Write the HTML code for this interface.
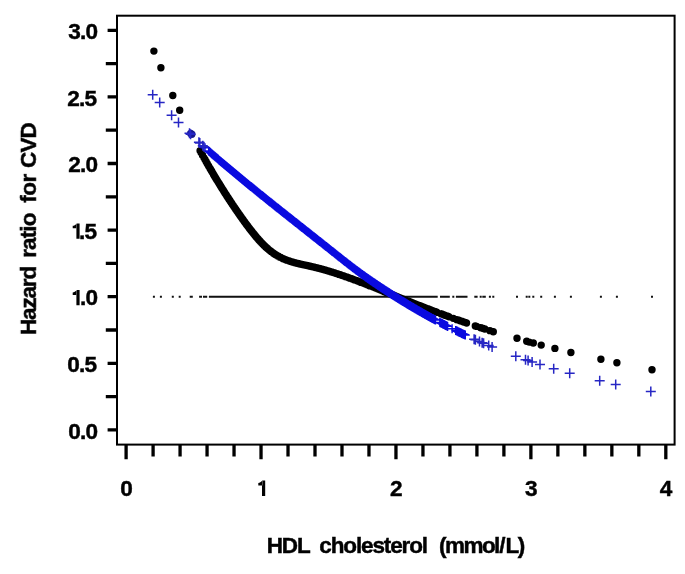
<!DOCTYPE html>
<html><head><meta charset="utf-8"><style>
html,body{margin:0;padding:0;background:#fff;width:685px;height:574px;overflow:hidden}
svg .p{stroke:#0a0ae0;stroke-width:1.4;fill:none}
svg .p.s{stroke:#2626c4;stroke-width:1.5}
svg text{font-family:"Liberation Sans",sans-serif;font-weight:bold;fill:#000}
svg .t{opacity:0.999}
svg .t text{stroke:#000;stroke-width:0.45}
svg .t tspan.h{fill:none;stroke:none}
</style></head><body>
<svg width="685" height="574" viewBox="0 0 685 574" style="position:absolute;left:0;top:0">
<rect x="0" y="0" width="685" height="574" fill="#fff"/>
<path d="M152.9 295.8h2v2h-2zM159.9 295.8h2v2h-2zM171.8 295.8h2v2h-2zM178.7 295.8h2v2h-2zM189.7 295.8h2v2h-2zM190.8 295.8h2v2h-2zM199.1 295.8h2v2h-2zM200.0 295.8h2v2h-2zM203.0 295.8h2v2h-2zM204.1 295.8h2v2h-2zM205.2 295.8h2v2h-2zM208.9 295.8h2v2h-2zM209.5 295.8h2v2h-2zM210.1 295.8h2v2h-2zM210.7 295.8h2v2h-2zM211.3 295.8h2v2h-2zM211.9 295.8h2v2h-2zM212.5 295.8h2v2h-2zM213.1 295.8h2v2h-2zM213.7 295.8h2v2h-2zM214.3 295.8h2v2h-2zM214.9 295.8h2v2h-2zM215.5 295.8h2v2h-2zM216.1 295.8h2v2h-2zM216.7 295.8h2v2h-2zM217.3 295.8h2v2h-2zM217.9 295.8h2v2h-2zM218.5 295.8h2v2h-2zM219.1 295.8h2v2h-2zM219.7 295.8h2v2h-2zM220.3 295.8h2v2h-2zM220.9 295.8h2v2h-2zM221.5 295.8h2v2h-2zM222.1 295.8h2v2h-2zM222.7 295.8h2v2h-2zM223.3 295.8h2v2h-2zM223.9 295.8h2v2h-2zM224.5 295.8h2v2h-2zM225.1 295.8h2v2h-2zM225.7 295.8h2v2h-2zM226.3 295.8h2v2h-2zM226.9 295.8h2v2h-2zM227.5 295.8h2v2h-2zM228.1 295.8h2v2h-2zM228.7 295.8h2v2h-2zM229.3 295.8h2v2h-2zM229.9 295.8h2v2h-2zM230.5 295.8h2v2h-2zM231.1 295.8h2v2h-2zM231.7 295.8h2v2h-2zM232.3 295.8h2v2h-2zM232.9 295.8h2v2h-2zM233.5 295.8h2v2h-2zM234.1 295.8h2v2h-2zM234.7 295.8h2v2h-2zM235.3 295.8h2v2h-2zM235.9 295.8h2v2h-2zM236.5 295.8h2v2h-2zM237.1 295.8h2v2h-2zM237.7 295.8h2v2h-2zM238.3 295.8h2v2h-2zM238.9 295.8h2v2h-2zM239.5 295.8h2v2h-2zM240.1 295.8h2v2h-2zM240.7 295.8h2v2h-2zM241.3 295.8h2v2h-2zM241.9 295.8h2v2h-2zM242.5 295.8h2v2h-2zM243.1 295.8h2v2h-2zM243.7 295.8h2v2h-2zM244.3 295.8h2v2h-2zM244.9 295.8h2v2h-2zM245.5 295.8h2v2h-2zM246.1 295.8h2v2h-2zM246.7 295.8h2v2h-2zM247.3 295.8h2v2h-2zM247.9 295.8h2v2h-2zM248.5 295.8h2v2h-2zM249.1 295.8h2v2h-2zM249.7 295.8h2v2h-2zM250.3 295.8h2v2h-2zM250.9 295.8h2v2h-2zM251.5 295.8h2v2h-2zM252.1 295.8h2v2h-2zM252.7 295.8h2v2h-2zM253.3 295.8h2v2h-2zM253.9 295.8h2v2h-2zM254.5 295.8h2v2h-2zM255.1 295.8h2v2h-2zM255.7 295.8h2v2h-2zM256.3 295.8h2v2h-2zM256.9 295.8h2v2h-2zM257.5 295.8h2v2h-2zM258.1 295.8h2v2h-2zM258.7 295.8h2v2h-2zM259.3 295.8h2v2h-2zM259.9 295.8h2v2h-2zM260.5 295.8h2v2h-2zM261.1 295.8h2v2h-2zM261.7 295.8h2v2h-2zM262.3 295.8h2v2h-2zM262.9 295.8h2v2h-2zM263.5 295.8h2v2h-2zM264.1 295.8h2v2h-2zM264.7 295.8h2v2h-2zM265.3 295.8h2v2h-2zM265.9 295.8h2v2h-2zM266.5 295.8h2v2h-2zM267.1 295.8h2v2h-2zM267.7 295.8h2v2h-2zM268.3 295.8h2v2h-2zM268.9 295.8h2v2h-2zM269.5 295.8h2v2h-2zM270.1 295.8h2v2h-2zM270.7 295.8h2v2h-2zM271.3 295.8h2v2h-2zM271.9 295.8h2v2h-2zM272.5 295.8h2v2h-2zM273.1 295.8h2v2h-2zM273.7 295.8h2v2h-2zM274.3 295.8h2v2h-2zM274.9 295.8h2v2h-2zM275.5 295.8h2v2h-2zM276.1 295.8h2v2h-2zM276.7 295.8h2v2h-2zM277.3 295.8h2v2h-2zM277.9 295.8h2v2h-2zM278.5 295.8h2v2h-2zM279.1 295.8h2v2h-2zM279.7 295.8h2v2h-2zM280.3 295.8h2v2h-2zM280.9 295.8h2v2h-2zM281.5 295.8h2v2h-2zM282.1 295.8h2v2h-2zM282.7 295.8h2v2h-2zM283.3 295.8h2v2h-2zM283.9 295.8h2v2h-2zM284.5 295.8h2v2h-2zM285.1 295.8h2v2h-2zM285.7 295.8h2v2h-2zM286.3 295.8h2v2h-2zM286.9 295.8h2v2h-2zM287.5 295.8h2v2h-2zM288.1 295.8h2v2h-2zM288.7 295.8h2v2h-2zM289.3 295.8h2v2h-2zM289.9 295.8h2v2h-2zM290.5 295.8h2v2h-2zM291.1 295.8h2v2h-2zM291.7 295.8h2v2h-2zM292.3 295.8h2v2h-2zM292.9 295.8h2v2h-2zM293.5 295.8h2v2h-2zM294.1 295.8h2v2h-2zM294.7 295.8h2v2h-2zM295.3 295.8h2v2h-2zM295.9 295.8h2v2h-2zM296.5 295.8h2v2h-2zM297.1 295.8h2v2h-2zM297.7 295.8h2v2h-2zM298.3 295.8h2v2h-2zM298.9 295.8h2v2h-2zM299.5 295.8h2v2h-2zM300.1 295.8h2v2h-2zM300.7 295.8h2v2h-2zM301.3 295.8h2v2h-2zM301.9 295.8h2v2h-2zM302.5 295.8h2v2h-2zM303.1 295.8h2v2h-2zM303.7 295.8h2v2h-2zM304.3 295.8h2v2h-2zM304.9 295.8h2v2h-2zM305.5 295.8h2v2h-2zM306.1 295.8h2v2h-2zM306.7 295.8h2v2h-2zM307.3 295.8h2v2h-2zM307.9 295.8h2v2h-2zM308.5 295.8h2v2h-2zM309.1 295.8h2v2h-2zM309.7 295.8h2v2h-2zM310.3 295.8h2v2h-2zM310.9 295.8h2v2h-2zM311.5 295.8h2v2h-2zM312.1 295.8h2v2h-2zM312.7 295.8h2v2h-2zM313.3 295.8h2v2h-2zM313.9 295.8h2v2h-2zM314.5 295.8h2v2h-2zM315.1 295.8h2v2h-2zM315.7 295.8h2v2h-2zM316.3 295.8h2v2h-2zM316.9 295.8h2v2h-2zM317.5 295.8h2v2h-2zM318.1 295.8h2v2h-2zM318.7 295.8h2v2h-2zM319.3 295.8h2v2h-2zM319.9 295.8h2v2h-2zM320.5 295.8h2v2h-2zM321.1 295.8h2v2h-2zM321.7 295.8h2v2h-2zM322.3 295.8h2v2h-2zM322.9 295.8h2v2h-2zM323.5 295.8h2v2h-2zM324.1 295.8h2v2h-2zM324.7 295.8h2v2h-2zM325.3 295.8h2v2h-2zM325.9 295.8h2v2h-2zM326.5 295.8h2v2h-2zM327.1 295.8h2v2h-2zM327.7 295.8h2v2h-2zM328.3 295.8h2v2h-2zM328.9 295.8h2v2h-2zM329.5 295.8h2v2h-2zM330.1 295.8h2v2h-2zM330.7 295.8h2v2h-2zM331.3 295.8h2v2h-2zM331.9 295.8h2v2h-2zM332.5 295.8h2v2h-2zM333.1 295.8h2v2h-2zM333.7 295.8h2v2h-2zM334.3 295.8h2v2h-2zM334.9 295.8h2v2h-2zM335.5 295.8h2v2h-2zM336.1 295.8h2v2h-2zM336.7 295.8h2v2h-2zM337.3 295.8h2v2h-2zM337.9 295.8h2v2h-2zM338.5 295.8h2v2h-2zM339.1 295.8h2v2h-2zM339.7 295.8h2v2h-2zM340.3 295.8h2v2h-2zM340.9 295.8h2v2h-2zM341.5 295.8h2v2h-2zM342.1 295.8h2v2h-2zM342.7 295.8h2v2h-2zM343.3 295.8h2v2h-2zM343.9 295.8h2v2h-2zM344.5 295.8h2v2h-2zM345.1 295.8h2v2h-2zM345.7 295.8h2v2h-2zM346.3 295.8h2v2h-2zM346.9 295.8h2v2h-2zM347.5 295.8h2v2h-2zM348.1 295.8h2v2h-2zM348.7 295.8h2v2h-2zM349.3 295.8h2v2h-2zM349.9 295.8h2v2h-2zM350.5 295.8h2v2h-2zM351.1 295.8h2v2h-2zM351.7 295.8h2v2h-2zM352.3 295.8h2v2h-2zM352.9 295.8h2v2h-2zM353.5 295.8h2v2h-2zM354.1 295.8h2v2h-2zM354.7 295.8h2v2h-2zM355.3 295.8h2v2h-2zM355.9 295.8h2v2h-2zM356.5 295.8h2v2h-2zM357.1 295.8h2v2h-2zM357.7 295.8h2v2h-2zM358.3 295.8h2v2h-2zM358.9 295.8h2v2h-2zM359.5 295.8h2v2h-2zM360.1 295.8h2v2h-2zM360.7 295.8h2v2h-2zM361.3 295.8h2v2h-2zM361.9 295.8h2v2h-2zM362.5 295.8h2v2h-2zM363.1 295.8h2v2h-2zM363.7 295.8h2v2h-2zM364.3 295.8h2v2h-2zM364.9 295.8h2v2h-2zM365.5 295.8h2v2h-2zM366.1 295.8h2v2h-2zM366.7 295.8h2v2h-2zM367.3 295.8h2v2h-2zM367.9 295.8h2v2h-2zM368.5 295.8h2v2h-2zM369.1 295.8h2v2h-2zM369.7 295.8h2v2h-2zM370.3 295.8h2v2h-2zM370.9 295.8h2v2h-2zM371.5 295.8h2v2h-2zM372.1 295.8h2v2h-2zM372.7 295.8h2v2h-2zM373.3 295.8h2v2h-2zM373.9 295.8h2v2h-2zM374.5 295.8h2v2h-2zM375.1 295.8h2v2h-2zM375.7 295.8h2v2h-2zM376.3 295.8h2v2h-2zM376.9 295.8h2v2h-2zM377.5 295.8h2v2h-2zM378.1 295.8h2v2h-2zM378.7 295.8h2v2h-2zM379.3 295.8h2v2h-2zM379.9 295.8h2v2h-2zM380.5 295.8h2v2h-2zM381.1 295.8h2v2h-2zM381.7 295.8h2v2h-2zM382.3 295.8h2v2h-2zM382.9 295.8h2v2h-2zM383.5 295.8h2v2h-2zM384.1 295.8h2v2h-2zM384.7 295.8h2v2h-2zM385.3 295.8h2v2h-2zM385.9 295.8h2v2h-2zM386.5 295.8h2v2h-2zM387.1 295.8h2v2h-2zM387.7 295.8h2v2h-2zM388.3 295.8h2v2h-2zM388.9 295.8h2v2h-2zM389.5 295.8h2v2h-2zM390.1 295.8h2v2h-2zM390.7 295.8h2v2h-2zM391.3 295.8h2v2h-2zM391.9 295.8h2v2h-2zM392.5 295.8h2v2h-2zM393.1 295.8h2v2h-2zM393.7 295.8h2v2h-2zM394.3 295.8h2v2h-2zM394.9 295.8h2v2h-2zM395.5 295.8h2v2h-2zM396.1 295.8h2v2h-2zM396.7 295.8h2v2h-2zM397.3 295.8h2v2h-2zM397.9 295.8h2v2h-2zM398.5 295.8h2v2h-2zM399.1 295.8h2v2h-2zM399.7 295.8h2v2h-2zM400.3 295.8h2v2h-2zM400.9 295.8h2v2h-2zM401.5 295.8h2v2h-2zM402.1 295.8h2v2h-2zM402.7 295.8h2v2h-2zM403.3 295.8h2v2h-2zM403.9 295.8h2v2h-2zM404.5 295.8h2v2h-2zM405.1 295.8h2v2h-2zM405.7 295.8h2v2h-2zM406.3 295.8h2v2h-2zM406.9 295.8h2v2h-2zM407.5 295.8h2v2h-2zM408.1 295.8h2v2h-2zM408.7 295.8h2v2h-2zM409.3 295.8h2v2h-2zM409.9 295.8h2v2h-2zM410.5 295.8h2v2h-2zM411.1 295.8h2v2h-2zM411.7 295.8h2v2h-2zM412.3 295.8h2v2h-2zM412.9 295.8h2v2h-2zM413.5 295.8h2v2h-2zM414.1 295.8h2v2h-2zM414.7 295.8h2v2h-2zM415.3 295.8h2v2h-2zM415.9 295.8h2v2h-2zM416.5 295.8h2v2h-2zM417.1 295.8h2v2h-2zM417.7 295.8h2v2h-2zM418.3 295.8h2v2h-2zM418.9 295.8h2v2h-2zM419.5 295.8h2v2h-2zM420.1 295.8h2v2h-2zM420.7 295.8h2v2h-2zM421.3 295.8h2v2h-2zM421.9 295.8h2v2h-2zM422.5 295.8h2v2h-2zM423.1 295.8h2v2h-2zM423.7 295.8h2v2h-2zM424.3 295.8h2v2h-2zM424.9 295.8h2v2h-2zM425.5 295.8h2v2h-2zM426.1 295.8h2v2h-2zM426.7 295.8h2v2h-2zM427.3 295.8h2v2h-2zM427.9 295.8h2v2h-2zM428.5 295.8h2v2h-2zM429.1 295.8h2v2h-2zM429.7 295.8h2v2h-2zM430.3 295.8h2v2h-2zM430.9 295.8h2v2h-2zM431.5 295.8h2v2h-2zM432.1 295.8h2v2h-2zM432.7 295.8h2v2h-2zM433.3 295.8h2v2h-2zM433.9 295.8h2v2h-2zM434.5 295.8h2v2h-2zM435.1 295.8h2v2h-2zM435.7 295.8h2v2h-2zM440.0 295.8h2v2h-2zM440.6 295.8h2v2h-2zM441.2 295.8h2v2h-2zM441.8 295.8h2v2h-2zM442.4 295.8h2v2h-2zM443.0 295.8h2v2h-2zM443.6 295.8h2v2h-2zM444.2 295.8h2v2h-2zM444.8 295.8h2v2h-2zM445.4 295.8h2v2h-2zM446.0 295.8h2v2h-2zM446.6 295.8h2v2h-2zM447.2 295.8h2v2h-2zM447.8 295.8h2v2h-2zM452.3 295.8h2v2h-2zM455.9 295.8h2v2h-2zM456.5 295.8h2v2h-2zM457.1 295.8h2v2h-2zM457.7 295.8h2v2h-2zM458.3 295.8h2v2h-2zM458.9 295.8h2v2h-2zM459.5 295.8h2v2h-2zM460.1 295.8h2v2h-2zM460.7 295.8h2v2h-2zM461.3 295.8h2v2h-2zM461.9 295.8h2v2h-2zM462.5 295.8h2v2h-2zM463.1 295.8h2v2h-2zM463.7 295.8h2v2h-2zM464.3 295.8h2v2h-2zM464.9 295.8h2v2h-2zM465.5 295.8h2v2h-2zM474.3 295.8h2v2h-2zM475.6 295.8h2v2h-2zM479.7 295.8h2v2h-2zM482.3 295.8h2v2h-2zM483.8 295.8h2v2h-2zM488.9 295.8h2v2h-2zM492.3 295.8h2v2h-2zM516.0 295.8h2v2h-2zM525.7 295.8h2v2h-2zM528.3 295.8h2v2h-2zM532.3 295.8h2v2h-2zM540.2 295.8h2v2h-2zM553.9 295.8h2v2h-2zM569.9 295.8h2v2h-2zM599.9 295.8h2v2h-2zM615.9 295.8h2v2h-2zM651.0 295.8h2v2h-2z" fill="#111"/>
<path d="M150.20 51.10a3.7 3.7 0 1 0 7.4 0a3.7 3.7 0 1 0 -7.4 0zM157.20 67.70a3.7 3.7 0 1 0 7.4 0a3.7 3.7 0 1 0 -7.4 0zM169.10 95.50a3.7 3.7 0 1 0 7.4 0a3.7 3.7 0 1 0 -7.4 0zM176.00 110.30a3.7 3.7 0 1 0 7.4 0a3.7 3.7 0 1 0 -7.4 0zM196.40 150.79a3.7 3.7 0 1 0 7.4 0a3.7 3.7 0 1 0 -7.4 0zM197.30 152.44a3.7 3.7 0 1 0 7.4 0a3.7 3.7 0 1 0 -7.4 0zM198.80 155.16a3.7 3.7 0 1 0 7.4 0a3.7 3.7 0 1 0 -7.4 0zM200.30 157.86a3.7 3.7 0 1 0 7.4 0a3.7 3.7 0 1 0 -7.4 0zM201.40 159.82a3.7 3.7 0 1 0 7.4 0a3.7 3.7 0 1 0 -7.4 0zM202.50 161.77a3.7 3.7 0 1 0 7.4 0a3.7 3.7 0 1 0 -7.4 0zM203.60 163.71a3.7 3.7 0 1 0 7.4 0a3.7 3.7 0 1 0 -7.4 0zM204.90 165.98a3.7 3.7 0 1 0 7.4 0a3.7 3.7 0 1 0 -7.4 0zM206.20 168.23a3.7 3.7 0 1 0 7.4 0a3.7 3.7 0 1 0 -7.4 0zM206.80 169.26a3.7 3.7 0 1 0 7.4 0a3.7 3.7 0 1 0 -7.4 0zM207.40 170.29a3.7 3.7 0 1 0 7.4 0a3.7 3.7 0 1 0 -7.4 0zM208.00 171.32a3.7 3.7 0 1 0 7.4 0a3.7 3.7 0 1 0 -7.4 0zM208.60 172.34a3.7 3.7 0 1 0 7.4 0a3.7 3.7 0 1 0 -7.4 0zM209.20 173.36a3.7 3.7 0 1 0 7.4 0a3.7 3.7 0 1 0 -7.4 0zM209.80 174.37a3.7 3.7 0 1 0 7.4 0a3.7 3.7 0 1 0 -7.4 0zM210.40 175.38a3.7 3.7 0 1 0 7.4 0a3.7 3.7 0 1 0 -7.4 0zM211.00 176.39a3.7 3.7 0 1 0 7.4 0a3.7 3.7 0 1 0 -7.4 0zM211.60 177.39a3.7 3.7 0 1 0 7.4 0a3.7 3.7 0 1 0 -7.4 0zM212.20 178.39a3.7 3.7 0 1 0 7.4 0a3.7 3.7 0 1 0 -7.4 0zM212.80 179.38a3.7 3.7 0 1 0 7.4 0a3.7 3.7 0 1 0 -7.4 0zM213.40 180.37a3.7 3.7 0 1 0 7.4 0a3.7 3.7 0 1 0 -7.4 0zM214.00 181.36a3.7 3.7 0 1 0 7.4 0a3.7 3.7 0 1 0 -7.4 0zM214.60 182.34a3.7 3.7 0 1 0 7.4 0a3.7 3.7 0 1 0 -7.4 0zM215.20 183.32a3.7 3.7 0 1 0 7.4 0a3.7 3.7 0 1 0 -7.4 0zM215.80 184.30a3.7 3.7 0 1 0 7.4 0a3.7 3.7 0 1 0 -7.4 0zM216.40 185.27a3.7 3.7 0 1 0 7.4 0a3.7 3.7 0 1 0 -7.4 0zM217.00 186.24a3.7 3.7 0 1 0 7.4 0a3.7 3.7 0 1 0 -7.4 0zM217.60 187.20a3.7 3.7 0 1 0 7.4 0a3.7 3.7 0 1 0 -7.4 0zM218.20 188.16a3.7 3.7 0 1 0 7.4 0a3.7 3.7 0 1 0 -7.4 0zM218.80 189.12a3.7 3.7 0 1 0 7.4 0a3.7 3.7 0 1 0 -7.4 0zM219.40 190.07a3.7 3.7 0 1 0 7.4 0a3.7 3.7 0 1 0 -7.4 0zM220.00 191.02a3.7 3.7 0 1 0 7.4 0a3.7 3.7 0 1 0 -7.4 0zM220.60 191.97a3.7 3.7 0 1 0 7.4 0a3.7 3.7 0 1 0 -7.4 0zM221.20 192.91a3.7 3.7 0 1 0 7.4 0a3.7 3.7 0 1 0 -7.4 0zM221.80 193.85a3.7 3.7 0 1 0 7.4 0a3.7 3.7 0 1 0 -7.4 0zM222.40 194.79a3.7 3.7 0 1 0 7.4 0a3.7 3.7 0 1 0 -7.4 0zM223.00 195.72a3.7 3.7 0 1 0 7.4 0a3.7 3.7 0 1 0 -7.4 0zM223.60 196.64a3.7 3.7 0 1 0 7.4 0a3.7 3.7 0 1 0 -7.4 0zM224.20 197.57a3.7 3.7 0 1 0 7.4 0a3.7 3.7 0 1 0 -7.4 0zM224.80 198.49a3.7 3.7 0 1 0 7.4 0a3.7 3.7 0 1 0 -7.4 0zM225.40 199.41a3.7 3.7 0 1 0 7.4 0a3.7 3.7 0 1 0 -7.4 0zM226.00 200.32a3.7 3.7 0 1 0 7.4 0a3.7 3.7 0 1 0 -7.4 0zM226.60 201.23a3.7 3.7 0 1 0 7.4 0a3.7 3.7 0 1 0 -7.4 0zM227.20 202.14a3.7 3.7 0 1 0 7.4 0a3.7 3.7 0 1 0 -7.4 0zM227.80 203.04a3.7 3.7 0 1 0 7.4 0a3.7 3.7 0 1 0 -7.4 0zM228.40 203.94a3.7 3.7 0 1 0 7.4 0a3.7 3.7 0 1 0 -7.4 0zM229.00 204.83a3.7 3.7 0 1 0 7.4 0a3.7 3.7 0 1 0 -7.4 0zM229.60 205.72a3.7 3.7 0 1 0 7.4 0a3.7 3.7 0 1 0 -7.4 0zM230.20 206.61a3.7 3.7 0 1 0 7.4 0a3.7 3.7 0 1 0 -7.4 0zM230.80 207.50a3.7 3.7 0 1 0 7.4 0a3.7 3.7 0 1 0 -7.4 0zM231.40 208.38a3.7 3.7 0 1 0 7.4 0a3.7 3.7 0 1 0 -7.4 0zM232.00 209.26a3.7 3.7 0 1 0 7.4 0a3.7 3.7 0 1 0 -7.4 0zM232.60 210.13a3.7 3.7 0 1 0 7.4 0a3.7 3.7 0 1 0 -7.4 0zM233.20 211.00a3.7 3.7 0 1 0 7.4 0a3.7 3.7 0 1 0 -7.4 0zM233.80 211.87a3.7 3.7 0 1 0 7.4 0a3.7 3.7 0 1 0 -7.4 0zM234.40 212.73a3.7 3.7 0 1 0 7.4 0a3.7 3.7 0 1 0 -7.4 0zM235.00 213.60a3.7 3.7 0 1 0 7.4 0a3.7 3.7 0 1 0 -7.4 0zM235.60 214.45a3.7 3.7 0 1 0 7.4 0a3.7 3.7 0 1 0 -7.4 0zM236.20 215.31a3.7 3.7 0 1 0 7.4 0a3.7 3.7 0 1 0 -7.4 0zM236.80 216.16a3.7 3.7 0 1 0 7.4 0a3.7 3.7 0 1 0 -7.4 0zM237.40 217.00a3.7 3.7 0 1 0 7.4 0a3.7 3.7 0 1 0 -7.4 0zM238.00 217.85a3.7 3.7 0 1 0 7.4 0a3.7 3.7 0 1 0 -7.4 0zM238.60 218.69a3.7 3.7 0 1 0 7.4 0a3.7 3.7 0 1 0 -7.4 0zM239.20 219.52a3.7 3.7 0 1 0 7.4 0a3.7 3.7 0 1 0 -7.4 0zM239.80 220.36a3.7 3.7 0 1 0 7.4 0a3.7 3.7 0 1 0 -7.4 0zM240.40 221.19a3.7 3.7 0 1 0 7.4 0a3.7 3.7 0 1 0 -7.4 0zM241.00 222.01a3.7 3.7 0 1 0 7.4 0a3.7 3.7 0 1 0 -7.4 0zM241.60 222.83a3.7 3.7 0 1 0 7.4 0a3.7 3.7 0 1 0 -7.4 0zM242.20 223.65a3.7 3.7 0 1 0 7.4 0a3.7 3.7 0 1 0 -7.4 0zM242.80 224.46a3.7 3.7 0 1 0 7.4 0a3.7 3.7 0 1 0 -7.4 0zM243.40 225.27a3.7 3.7 0 1 0 7.4 0a3.7 3.7 0 1 0 -7.4 0zM244.00 226.07a3.7 3.7 0 1 0 7.4 0a3.7 3.7 0 1 0 -7.4 0zM244.60 226.87a3.7 3.7 0 1 0 7.4 0a3.7 3.7 0 1 0 -7.4 0zM245.20 227.66a3.7 3.7 0 1 0 7.4 0a3.7 3.7 0 1 0 -7.4 0zM245.80 228.45a3.7 3.7 0 1 0 7.4 0a3.7 3.7 0 1 0 -7.4 0zM246.40 229.23a3.7 3.7 0 1 0 7.4 0a3.7 3.7 0 1 0 -7.4 0zM247.00 230.00a3.7 3.7 0 1 0 7.4 0a3.7 3.7 0 1 0 -7.4 0zM247.60 230.77a3.7 3.7 0 1 0 7.4 0a3.7 3.7 0 1 0 -7.4 0zM248.20 231.53a3.7 3.7 0 1 0 7.4 0a3.7 3.7 0 1 0 -7.4 0zM248.80 232.29a3.7 3.7 0 1 0 7.4 0a3.7 3.7 0 1 0 -7.4 0zM249.40 233.04a3.7 3.7 0 1 0 7.4 0a3.7 3.7 0 1 0 -7.4 0zM250.00 233.78a3.7 3.7 0 1 0 7.4 0a3.7 3.7 0 1 0 -7.4 0zM250.60 234.52a3.7 3.7 0 1 0 7.4 0a3.7 3.7 0 1 0 -7.4 0zM251.20 235.25a3.7 3.7 0 1 0 7.4 0a3.7 3.7 0 1 0 -7.4 0zM251.80 235.97a3.7 3.7 0 1 0 7.4 0a3.7 3.7 0 1 0 -7.4 0zM252.40 236.68a3.7 3.7 0 1 0 7.4 0a3.7 3.7 0 1 0 -7.4 0zM253.00 237.39a3.7 3.7 0 1 0 7.4 0a3.7 3.7 0 1 0 -7.4 0zM253.60 238.09a3.7 3.7 0 1 0 7.4 0a3.7 3.7 0 1 0 -7.4 0zM254.20 238.78a3.7 3.7 0 1 0 7.4 0a3.7 3.7 0 1 0 -7.4 0zM254.80 239.46a3.7 3.7 0 1 0 7.4 0a3.7 3.7 0 1 0 -7.4 0zM255.40 240.13a3.7 3.7 0 1 0 7.4 0a3.7 3.7 0 1 0 -7.4 0zM256.00 240.80a3.7 3.7 0 1 0 7.4 0a3.7 3.7 0 1 0 -7.4 0zM256.60 241.45a3.7 3.7 0 1 0 7.4 0a3.7 3.7 0 1 0 -7.4 0zM257.20 242.10a3.7 3.7 0 1 0 7.4 0a3.7 3.7 0 1 0 -7.4 0zM257.80 242.74a3.7 3.7 0 1 0 7.4 0a3.7 3.7 0 1 0 -7.4 0zM258.40 243.36a3.7 3.7 0 1 0 7.4 0a3.7 3.7 0 1 0 -7.4 0zM259.00 243.98a3.7 3.7 0 1 0 7.4 0a3.7 3.7 0 1 0 -7.4 0zM259.60 244.59a3.7 3.7 0 1 0 7.4 0a3.7 3.7 0 1 0 -7.4 0zM260.20 245.19a3.7 3.7 0 1 0 7.4 0a3.7 3.7 0 1 0 -7.4 0zM260.80 245.78a3.7 3.7 0 1 0 7.4 0a3.7 3.7 0 1 0 -7.4 0zM261.40 246.36a3.7 3.7 0 1 0 7.4 0a3.7 3.7 0 1 0 -7.4 0zM262.00 246.93a3.7 3.7 0 1 0 7.4 0a3.7 3.7 0 1 0 -7.4 0zM262.60 247.48a3.7 3.7 0 1 0 7.4 0a3.7 3.7 0 1 0 -7.4 0zM263.20 248.03a3.7 3.7 0 1 0 7.4 0a3.7 3.7 0 1 0 -7.4 0zM263.80 248.56a3.7 3.7 0 1 0 7.4 0a3.7 3.7 0 1 0 -7.4 0zM264.40 249.09a3.7 3.7 0 1 0 7.4 0a3.7 3.7 0 1 0 -7.4 0zM265.00 249.60a3.7 3.7 0 1 0 7.4 0a3.7 3.7 0 1 0 -7.4 0zM265.60 250.10a3.7 3.7 0 1 0 7.4 0a3.7 3.7 0 1 0 -7.4 0zM266.20 250.59a3.7 3.7 0 1 0 7.4 0a3.7 3.7 0 1 0 -7.4 0zM266.80 251.07a3.7 3.7 0 1 0 7.4 0a3.7 3.7 0 1 0 -7.4 0zM267.40 251.53a3.7 3.7 0 1 0 7.4 0a3.7 3.7 0 1 0 -7.4 0zM268.00 251.99a3.7 3.7 0 1 0 7.4 0a3.7 3.7 0 1 0 -7.4 0zM268.60 252.43a3.7 3.7 0 1 0 7.4 0a3.7 3.7 0 1 0 -7.4 0zM269.20 252.86a3.7 3.7 0 1 0 7.4 0a3.7 3.7 0 1 0 -7.4 0zM269.80 253.28a3.7 3.7 0 1 0 7.4 0a3.7 3.7 0 1 0 -7.4 0zM270.40 253.69a3.7 3.7 0 1 0 7.4 0a3.7 3.7 0 1 0 -7.4 0zM271.00 254.09a3.7 3.7 0 1 0 7.4 0a3.7 3.7 0 1 0 -7.4 0zM271.60 254.48a3.7 3.7 0 1 0 7.4 0a3.7 3.7 0 1 0 -7.4 0zM272.20 254.86a3.7 3.7 0 1 0 7.4 0a3.7 3.7 0 1 0 -7.4 0zM272.80 255.22a3.7 3.7 0 1 0 7.4 0a3.7 3.7 0 1 0 -7.4 0zM273.40 255.58a3.7 3.7 0 1 0 7.4 0a3.7 3.7 0 1 0 -7.4 0zM274.00 255.93a3.7 3.7 0 1 0 7.4 0a3.7 3.7 0 1 0 -7.4 0zM274.60 256.27a3.7 3.7 0 1 0 7.4 0a3.7 3.7 0 1 0 -7.4 0zM275.20 256.60a3.7 3.7 0 1 0 7.4 0a3.7 3.7 0 1 0 -7.4 0zM275.80 256.92a3.7 3.7 0 1 0 7.4 0a3.7 3.7 0 1 0 -7.4 0zM276.40 257.23a3.7 3.7 0 1 0 7.4 0a3.7 3.7 0 1 0 -7.4 0zM277.00 257.54a3.7 3.7 0 1 0 7.4 0a3.7 3.7 0 1 0 -7.4 0zM277.60 257.83a3.7 3.7 0 1 0 7.4 0a3.7 3.7 0 1 0 -7.4 0zM278.20 258.12a3.7 3.7 0 1 0 7.4 0a3.7 3.7 0 1 0 -7.4 0zM278.80 258.40a3.7 3.7 0 1 0 7.4 0a3.7 3.7 0 1 0 -7.4 0zM279.40 258.67a3.7 3.7 0 1 0 7.4 0a3.7 3.7 0 1 0 -7.4 0zM280.00 258.93a3.7 3.7 0 1 0 7.4 0a3.7 3.7 0 1 0 -7.4 0zM280.60 259.19a3.7 3.7 0 1 0 7.4 0a3.7 3.7 0 1 0 -7.4 0zM281.20 259.44a3.7 3.7 0 1 0 7.4 0a3.7 3.7 0 1 0 -7.4 0zM281.80 259.68a3.7 3.7 0 1 0 7.4 0a3.7 3.7 0 1 0 -7.4 0zM282.40 259.92a3.7 3.7 0 1 0 7.4 0a3.7 3.7 0 1 0 -7.4 0zM283.00 260.15a3.7 3.7 0 1 0 7.4 0a3.7 3.7 0 1 0 -7.4 0zM283.60 260.37a3.7 3.7 0 1 0 7.4 0a3.7 3.7 0 1 0 -7.4 0zM284.20 260.59a3.7 3.7 0 1 0 7.4 0a3.7 3.7 0 1 0 -7.4 0zM284.80 260.80a3.7 3.7 0 1 0 7.4 0a3.7 3.7 0 1 0 -7.4 0zM285.40 261.01a3.7 3.7 0 1 0 7.4 0a3.7 3.7 0 1 0 -7.4 0zM286.00 261.21a3.7 3.7 0 1 0 7.4 0a3.7 3.7 0 1 0 -7.4 0zM286.60 261.40a3.7 3.7 0 1 0 7.4 0a3.7 3.7 0 1 0 -7.4 0zM287.20 261.59a3.7 3.7 0 1 0 7.4 0a3.7 3.7 0 1 0 -7.4 0zM287.80 261.77a3.7 3.7 0 1 0 7.4 0a3.7 3.7 0 1 0 -7.4 0zM288.40 261.95a3.7 3.7 0 1 0 7.4 0a3.7 3.7 0 1 0 -7.4 0zM289.00 262.13a3.7 3.7 0 1 0 7.4 0a3.7 3.7 0 1 0 -7.4 0zM289.60 262.30a3.7 3.7 0 1 0 7.4 0a3.7 3.7 0 1 0 -7.4 0zM290.20 262.47a3.7 3.7 0 1 0 7.4 0a3.7 3.7 0 1 0 -7.4 0zM290.80 262.63a3.7 3.7 0 1 0 7.4 0a3.7 3.7 0 1 0 -7.4 0zM291.40 262.79a3.7 3.7 0 1 0 7.4 0a3.7 3.7 0 1 0 -7.4 0zM292.00 262.95a3.7 3.7 0 1 0 7.4 0a3.7 3.7 0 1 0 -7.4 0zM292.60 263.10a3.7 3.7 0 1 0 7.4 0a3.7 3.7 0 1 0 -7.4 0zM293.20 263.25a3.7 3.7 0 1 0 7.4 0a3.7 3.7 0 1 0 -7.4 0zM293.80 263.40a3.7 3.7 0 1 0 7.4 0a3.7 3.7 0 1 0 -7.4 0zM294.40 263.54a3.7 3.7 0 1 0 7.4 0a3.7 3.7 0 1 0 -7.4 0zM295.00 263.68a3.7 3.7 0 1 0 7.4 0a3.7 3.7 0 1 0 -7.4 0zM295.60 263.82a3.7 3.7 0 1 0 7.4 0a3.7 3.7 0 1 0 -7.4 0zM296.20 263.96a3.7 3.7 0 1 0 7.4 0a3.7 3.7 0 1 0 -7.4 0zM296.80 264.10a3.7 3.7 0 1 0 7.4 0a3.7 3.7 0 1 0 -7.4 0zM297.40 264.23a3.7 3.7 0 1 0 7.4 0a3.7 3.7 0 1 0 -7.4 0zM298.00 264.37a3.7 3.7 0 1 0 7.4 0a3.7 3.7 0 1 0 -7.4 0zM298.60 264.50a3.7 3.7 0 1 0 7.4 0a3.7 3.7 0 1 0 -7.4 0zM299.20 264.63a3.7 3.7 0 1 0 7.4 0a3.7 3.7 0 1 0 -7.4 0zM299.80 264.76a3.7 3.7 0 1 0 7.4 0a3.7 3.7 0 1 0 -7.4 0zM300.40 264.89a3.7 3.7 0 1 0 7.4 0a3.7 3.7 0 1 0 -7.4 0zM301.00 265.02a3.7 3.7 0 1 0 7.4 0a3.7 3.7 0 1 0 -7.4 0zM301.60 265.15a3.7 3.7 0 1 0 7.4 0a3.7 3.7 0 1 0 -7.4 0zM302.20 265.27a3.7 3.7 0 1 0 7.4 0a3.7 3.7 0 1 0 -7.4 0zM302.80 265.40a3.7 3.7 0 1 0 7.4 0a3.7 3.7 0 1 0 -7.4 0zM303.40 265.53a3.7 3.7 0 1 0 7.4 0a3.7 3.7 0 1 0 -7.4 0zM304.00 265.66a3.7 3.7 0 1 0 7.4 0a3.7 3.7 0 1 0 -7.4 0zM304.60 265.79a3.7 3.7 0 1 0 7.4 0a3.7 3.7 0 1 0 -7.4 0zM305.20 265.93a3.7 3.7 0 1 0 7.4 0a3.7 3.7 0 1 0 -7.4 0zM305.80 266.06a3.7 3.7 0 1 0 7.4 0a3.7 3.7 0 1 0 -7.4 0zM306.40 266.20a3.7 3.7 0 1 0 7.4 0a3.7 3.7 0 1 0 -7.4 0zM307.00 266.33a3.7 3.7 0 1 0 7.4 0a3.7 3.7 0 1 0 -7.4 0zM307.60 266.47a3.7 3.7 0 1 0 7.4 0a3.7 3.7 0 1 0 -7.4 0zM308.20 266.61a3.7 3.7 0 1 0 7.4 0a3.7 3.7 0 1 0 -7.4 0zM308.80 266.75a3.7 3.7 0 1 0 7.4 0a3.7 3.7 0 1 0 -7.4 0zM309.40 266.89a3.7 3.7 0 1 0 7.4 0a3.7 3.7 0 1 0 -7.4 0zM310.00 267.04a3.7 3.7 0 1 0 7.4 0a3.7 3.7 0 1 0 -7.4 0zM310.60 267.19a3.7 3.7 0 1 0 7.4 0a3.7 3.7 0 1 0 -7.4 0zM311.20 267.33a3.7 3.7 0 1 0 7.4 0a3.7 3.7 0 1 0 -7.4 0zM311.80 267.48a3.7 3.7 0 1 0 7.4 0a3.7 3.7 0 1 0 -7.4 0zM312.40 267.63a3.7 3.7 0 1 0 7.4 0a3.7 3.7 0 1 0 -7.4 0zM313.00 267.79a3.7 3.7 0 1 0 7.4 0a3.7 3.7 0 1 0 -7.4 0zM313.60 267.94a3.7 3.7 0 1 0 7.4 0a3.7 3.7 0 1 0 -7.4 0zM314.20 268.09a3.7 3.7 0 1 0 7.4 0a3.7 3.7 0 1 0 -7.4 0zM314.80 268.25a3.7 3.7 0 1 0 7.4 0a3.7 3.7 0 1 0 -7.4 0zM315.40 268.41a3.7 3.7 0 1 0 7.4 0a3.7 3.7 0 1 0 -7.4 0zM316.00 268.57a3.7 3.7 0 1 0 7.4 0a3.7 3.7 0 1 0 -7.4 0zM316.60 268.73a3.7 3.7 0 1 0 7.4 0a3.7 3.7 0 1 0 -7.4 0zM317.20 268.89a3.7 3.7 0 1 0 7.4 0a3.7 3.7 0 1 0 -7.4 0zM317.80 269.06a3.7 3.7 0 1 0 7.4 0a3.7 3.7 0 1 0 -7.4 0zM318.40 269.22a3.7 3.7 0 1 0 7.4 0a3.7 3.7 0 1 0 -7.4 0zM319.00 269.39a3.7 3.7 0 1 0 7.4 0a3.7 3.7 0 1 0 -7.4 0zM319.60 269.56a3.7 3.7 0 1 0 7.4 0a3.7 3.7 0 1 0 -7.4 0zM320.20 269.73a3.7 3.7 0 1 0 7.4 0a3.7 3.7 0 1 0 -7.4 0zM320.80 269.90a3.7 3.7 0 1 0 7.4 0a3.7 3.7 0 1 0 -7.4 0zM321.40 270.07a3.7 3.7 0 1 0 7.4 0a3.7 3.7 0 1 0 -7.4 0zM322.00 270.24a3.7 3.7 0 1 0 7.4 0a3.7 3.7 0 1 0 -7.4 0zM322.60 270.42a3.7 3.7 0 1 0 7.4 0a3.7 3.7 0 1 0 -7.4 0zM323.20 270.59a3.7 3.7 0 1 0 7.4 0a3.7 3.7 0 1 0 -7.4 0zM323.80 270.77a3.7 3.7 0 1 0 7.4 0a3.7 3.7 0 1 0 -7.4 0zM324.40 270.95a3.7 3.7 0 1 0 7.4 0a3.7 3.7 0 1 0 -7.4 0zM325.00 271.13a3.7 3.7 0 1 0 7.4 0a3.7 3.7 0 1 0 -7.4 0zM325.60 271.31a3.7 3.7 0 1 0 7.4 0a3.7 3.7 0 1 0 -7.4 0zM326.20 271.49a3.7 3.7 0 1 0 7.4 0a3.7 3.7 0 1 0 -7.4 0zM326.80 271.68a3.7 3.7 0 1 0 7.4 0a3.7 3.7 0 1 0 -7.4 0zM327.40 271.86a3.7 3.7 0 1 0 7.4 0a3.7 3.7 0 1 0 -7.4 0zM328.00 272.05a3.7 3.7 0 1 0 7.4 0a3.7 3.7 0 1 0 -7.4 0zM328.60 272.24a3.7 3.7 0 1 0 7.4 0a3.7 3.7 0 1 0 -7.4 0zM329.20 272.42a3.7 3.7 0 1 0 7.4 0a3.7 3.7 0 1 0 -7.4 0zM329.80 272.61a3.7 3.7 0 1 0 7.4 0a3.7 3.7 0 1 0 -7.4 0zM330.40 272.80a3.7 3.7 0 1 0 7.4 0a3.7 3.7 0 1 0 -7.4 0zM331.00 273.00a3.7 3.7 0 1 0 7.4 0a3.7 3.7 0 1 0 -7.4 0zM331.60 273.19a3.7 3.7 0 1 0 7.4 0a3.7 3.7 0 1 0 -7.4 0zM332.20 273.38a3.7 3.7 0 1 0 7.4 0a3.7 3.7 0 1 0 -7.4 0zM332.80 273.58a3.7 3.7 0 1 0 7.4 0a3.7 3.7 0 1 0 -7.4 0zM333.40 273.77a3.7 3.7 0 1 0 7.4 0a3.7 3.7 0 1 0 -7.4 0zM334.00 273.97a3.7 3.7 0 1 0 7.4 0a3.7 3.7 0 1 0 -7.4 0zM334.60 274.17a3.7 3.7 0 1 0 7.4 0a3.7 3.7 0 1 0 -7.4 0zM335.20 274.37a3.7 3.7 0 1 0 7.4 0a3.7 3.7 0 1 0 -7.4 0zM335.80 274.57a3.7 3.7 0 1 0 7.4 0a3.7 3.7 0 1 0 -7.4 0zM336.40 274.77a3.7 3.7 0 1 0 7.4 0a3.7 3.7 0 1 0 -7.4 0zM337.00 274.97a3.7 3.7 0 1 0 7.4 0a3.7 3.7 0 1 0 -7.4 0zM337.60 275.18a3.7 3.7 0 1 0 7.4 0a3.7 3.7 0 1 0 -7.4 0zM338.20 275.38a3.7 3.7 0 1 0 7.4 0a3.7 3.7 0 1 0 -7.4 0zM338.80 275.59a3.7 3.7 0 1 0 7.4 0a3.7 3.7 0 1 0 -7.4 0zM339.40 275.79a3.7 3.7 0 1 0 7.4 0a3.7 3.7 0 1 0 -7.4 0zM340.00 276.00a3.7 3.7 0 1 0 7.4 0a3.7 3.7 0 1 0 -7.4 0zM340.60 276.21a3.7 3.7 0 1 0 7.4 0a3.7 3.7 0 1 0 -7.4 0zM341.20 276.42a3.7 3.7 0 1 0 7.4 0a3.7 3.7 0 1 0 -7.4 0zM341.80 276.63a3.7 3.7 0 1 0 7.4 0a3.7 3.7 0 1 0 -7.4 0zM342.40 276.84a3.7 3.7 0 1 0 7.4 0a3.7 3.7 0 1 0 -7.4 0zM343.00 277.05a3.7 3.7 0 1 0 7.4 0a3.7 3.7 0 1 0 -7.4 0zM343.60 277.27a3.7 3.7 0 1 0 7.4 0a3.7 3.7 0 1 0 -7.4 0zM344.20 277.48a3.7 3.7 0 1 0 7.4 0a3.7 3.7 0 1 0 -7.4 0zM344.80 277.69a3.7 3.7 0 1 0 7.4 0a3.7 3.7 0 1 0 -7.4 0zM345.40 277.91a3.7 3.7 0 1 0 7.4 0a3.7 3.7 0 1 0 -7.4 0zM346.00 278.13a3.7 3.7 0 1 0 7.4 0a3.7 3.7 0 1 0 -7.4 0zM346.60 278.34a3.7 3.7 0 1 0 7.4 0a3.7 3.7 0 1 0 -7.4 0zM347.20 278.56a3.7 3.7 0 1 0 7.4 0a3.7 3.7 0 1 0 -7.4 0zM347.80 278.78a3.7 3.7 0 1 0 7.4 0a3.7 3.7 0 1 0 -7.4 0zM348.40 279.00a3.7 3.7 0 1 0 7.4 0a3.7 3.7 0 1 0 -7.4 0zM349.00 279.22a3.7 3.7 0 1 0 7.4 0a3.7 3.7 0 1 0 -7.4 0zM349.60 279.44a3.7 3.7 0 1 0 7.4 0a3.7 3.7 0 1 0 -7.4 0zM350.20 279.66a3.7 3.7 0 1 0 7.4 0a3.7 3.7 0 1 0 -7.4 0zM350.80 279.88a3.7 3.7 0 1 0 7.4 0a3.7 3.7 0 1 0 -7.4 0zM351.40 280.11a3.7 3.7 0 1 0 7.4 0a3.7 3.7 0 1 0 -7.4 0zM352.00 280.33a3.7 3.7 0 1 0 7.4 0a3.7 3.7 0 1 0 -7.4 0zM352.60 280.56a3.7 3.7 0 1 0 7.4 0a3.7 3.7 0 1 0 -7.4 0zM353.20 280.78a3.7 3.7 0 1 0 7.4 0a3.7 3.7 0 1 0 -7.4 0zM353.80 281.01a3.7 3.7 0 1 0 7.4 0a3.7 3.7 0 1 0 -7.4 0zM354.40 281.23a3.7 3.7 0 1 0 7.4 0a3.7 3.7 0 1 0 -7.4 0zM355.00 281.46a3.7 3.7 0 1 0 7.4 0a3.7 3.7 0 1 0 -7.4 0zM355.60 281.69a3.7 3.7 0 1 0 7.4 0a3.7 3.7 0 1 0 -7.4 0zM356.20 281.92a3.7 3.7 0 1 0 7.4 0a3.7 3.7 0 1 0 -7.4 0zM356.80 282.15a3.7 3.7 0 1 0 7.4 0a3.7 3.7 0 1 0 -7.4 0zM357.40 282.38a3.7 3.7 0 1 0 7.4 0a3.7 3.7 0 1 0 -7.4 0zM358.00 282.61a3.7 3.7 0 1 0 7.4 0a3.7 3.7 0 1 0 -7.4 0zM358.60 282.84a3.7 3.7 0 1 0 7.4 0a3.7 3.7 0 1 0 -7.4 0zM359.20 283.07a3.7 3.7 0 1 0 7.4 0a3.7 3.7 0 1 0 -7.4 0zM359.80 283.30a3.7 3.7 0 1 0 7.4 0a3.7 3.7 0 1 0 -7.4 0zM360.40 283.53a3.7 3.7 0 1 0 7.4 0a3.7 3.7 0 1 0 -7.4 0zM361.00 283.76a3.7 3.7 0 1 0 7.4 0a3.7 3.7 0 1 0 -7.4 0zM361.60 284.00a3.7 3.7 0 1 0 7.4 0a3.7 3.7 0 1 0 -7.4 0zM362.20 284.23a3.7 3.7 0 1 0 7.4 0a3.7 3.7 0 1 0 -7.4 0zM362.80 284.47a3.7 3.7 0 1 0 7.4 0a3.7 3.7 0 1 0 -7.4 0zM363.40 284.70a3.7 3.7 0 1 0 7.4 0a3.7 3.7 0 1 0 -7.4 0zM364.00 284.94a3.7 3.7 0 1 0 7.4 0a3.7 3.7 0 1 0 -7.4 0zM364.60 285.17a3.7 3.7 0 1 0 7.4 0a3.7 3.7 0 1 0 -7.4 0zM365.20 285.41a3.7 3.7 0 1 0 7.4 0a3.7 3.7 0 1 0 -7.4 0zM365.80 285.64a3.7 3.7 0 1 0 7.4 0a3.7 3.7 0 1 0 -7.4 0zM366.40 285.88a3.7 3.7 0 1 0 7.4 0a3.7 3.7 0 1 0 -7.4 0zM367.00 286.12a3.7 3.7 0 1 0 7.4 0a3.7 3.7 0 1 0 -7.4 0zM367.60 286.36a3.7 3.7 0 1 0 7.4 0a3.7 3.7 0 1 0 -7.4 0zM368.20 286.59a3.7 3.7 0 1 0 7.4 0a3.7 3.7 0 1 0 -7.4 0zM368.80 286.83a3.7 3.7 0 1 0 7.4 0a3.7 3.7 0 1 0 -7.4 0zM369.40 287.07a3.7 3.7 0 1 0 7.4 0a3.7 3.7 0 1 0 -7.4 0zM370.00 287.31a3.7 3.7 0 1 0 7.4 0a3.7 3.7 0 1 0 -7.4 0zM370.60 287.55a3.7 3.7 0 1 0 7.4 0a3.7 3.7 0 1 0 -7.4 0zM371.20 287.79a3.7 3.7 0 1 0 7.4 0a3.7 3.7 0 1 0 -7.4 0zM371.80 288.03a3.7 3.7 0 1 0 7.4 0a3.7 3.7 0 1 0 -7.4 0zM372.40 288.27a3.7 3.7 0 1 0 7.4 0a3.7 3.7 0 1 0 -7.4 0zM373.00 288.51a3.7 3.7 0 1 0 7.4 0a3.7 3.7 0 1 0 -7.4 0zM373.60 288.75a3.7 3.7 0 1 0 7.4 0a3.7 3.7 0 1 0 -7.4 0zM374.20 288.99a3.7 3.7 0 1 0 7.4 0a3.7 3.7 0 1 0 -7.4 0zM374.80 289.23a3.7 3.7 0 1 0 7.4 0a3.7 3.7 0 1 0 -7.4 0zM375.40 289.47a3.7 3.7 0 1 0 7.4 0a3.7 3.7 0 1 0 -7.4 0zM376.00 289.71a3.7 3.7 0 1 0 7.4 0a3.7 3.7 0 1 0 -7.4 0zM376.60 289.96a3.7 3.7 0 1 0 7.4 0a3.7 3.7 0 1 0 -7.4 0zM377.20 290.20a3.7 3.7 0 1 0 7.4 0a3.7 3.7 0 1 0 -7.4 0zM377.80 290.44a3.7 3.7 0 1 0 7.4 0a3.7 3.7 0 1 0 -7.4 0zM378.40 290.68a3.7 3.7 0 1 0 7.4 0a3.7 3.7 0 1 0 -7.4 0zM379.00 290.92a3.7 3.7 0 1 0 7.4 0a3.7 3.7 0 1 0 -7.4 0zM379.60 291.17a3.7 3.7 0 1 0 7.4 0a3.7 3.7 0 1 0 -7.4 0zM380.20 291.41a3.7 3.7 0 1 0 7.4 0a3.7 3.7 0 1 0 -7.4 0zM380.80 291.65a3.7 3.7 0 1 0 7.4 0a3.7 3.7 0 1 0 -7.4 0zM381.40 291.89a3.7 3.7 0 1 0 7.4 0a3.7 3.7 0 1 0 -7.4 0zM382.00 292.14a3.7 3.7 0 1 0 7.4 0a3.7 3.7 0 1 0 -7.4 0zM382.60 292.38a3.7 3.7 0 1 0 7.4 0a3.7 3.7 0 1 0 -7.4 0zM383.20 292.62a3.7 3.7 0 1 0 7.4 0a3.7 3.7 0 1 0 -7.4 0zM383.80 292.87a3.7 3.7 0 1 0 7.4 0a3.7 3.7 0 1 0 -7.4 0zM384.40 293.11a3.7 3.7 0 1 0 7.4 0a3.7 3.7 0 1 0 -7.4 0zM385.00 293.35a3.7 3.7 0 1 0 7.4 0a3.7 3.7 0 1 0 -7.4 0zM385.60 293.60a3.7 3.7 0 1 0 7.4 0a3.7 3.7 0 1 0 -7.4 0zM386.20 293.84a3.7 3.7 0 1 0 7.4 0a3.7 3.7 0 1 0 -7.4 0zM386.80 294.08a3.7 3.7 0 1 0 7.4 0a3.7 3.7 0 1 0 -7.4 0zM387.40 294.32a3.7 3.7 0 1 0 7.4 0a3.7 3.7 0 1 0 -7.4 0zM388.00 294.57a3.7 3.7 0 1 0 7.4 0a3.7 3.7 0 1 0 -7.4 0zM388.60 294.81a3.7 3.7 0 1 0 7.4 0a3.7 3.7 0 1 0 -7.4 0zM389.20 295.05a3.7 3.7 0 1 0 7.4 0a3.7 3.7 0 1 0 -7.4 0zM389.80 295.30a3.7 3.7 0 1 0 7.4 0a3.7 3.7 0 1 0 -7.4 0zM390.40 295.54a3.7 3.7 0 1 0 7.4 0a3.7 3.7 0 1 0 -7.4 0zM391.00 295.78a3.7 3.7 0 1 0 7.4 0a3.7 3.7 0 1 0 -7.4 0zM391.60 296.02a3.7 3.7 0 1 0 7.4 0a3.7 3.7 0 1 0 -7.4 0zM392.20 296.27a3.7 3.7 0 1 0 7.4 0a3.7 3.7 0 1 0 -7.4 0zM392.80 296.51a3.7 3.7 0 1 0 7.4 0a3.7 3.7 0 1 0 -7.4 0zM393.40 296.75a3.7 3.7 0 1 0 7.4 0a3.7 3.7 0 1 0 -7.4 0zM394.00 296.99a3.7 3.7 0 1 0 7.4 0a3.7 3.7 0 1 0 -7.4 0zM394.60 297.23a3.7 3.7 0 1 0 7.4 0a3.7 3.7 0 1 0 -7.4 0zM395.20 297.47a3.7 3.7 0 1 0 7.4 0a3.7 3.7 0 1 0 -7.4 0zM395.80 297.72a3.7 3.7 0 1 0 7.4 0a3.7 3.7 0 1 0 -7.4 0zM396.40 297.96a3.7 3.7 0 1 0 7.4 0a3.7 3.7 0 1 0 -7.4 0zM397.00 298.20a3.7 3.7 0 1 0 7.4 0a3.7 3.7 0 1 0 -7.4 0zM397.60 298.44a3.7 3.7 0 1 0 7.4 0a3.7 3.7 0 1 0 -7.4 0zM398.20 298.68a3.7 3.7 0 1 0 7.4 0a3.7 3.7 0 1 0 -7.4 0zM398.80 298.92a3.7 3.7 0 1 0 7.4 0a3.7 3.7 0 1 0 -7.4 0zM399.40 299.16a3.7 3.7 0 1 0 7.4 0a3.7 3.7 0 1 0 -7.4 0zM400.00 299.40a3.7 3.7 0 1 0 7.4 0a3.7 3.7 0 1 0 -7.4 0zM400.60 299.64a3.7 3.7 0 1 0 7.4 0a3.7 3.7 0 1 0 -7.4 0zM401.20 299.88a3.7 3.7 0 1 0 7.4 0a3.7 3.7 0 1 0 -7.4 0zM401.80 300.12a3.7 3.7 0 1 0 7.4 0a3.7 3.7 0 1 0 -7.4 0zM402.40 300.36a3.7 3.7 0 1 0 7.4 0a3.7 3.7 0 1 0 -7.4 0zM403.00 300.60a3.7 3.7 0 1 0 7.4 0a3.7 3.7 0 1 0 -7.4 0zM403.60 300.83a3.7 3.7 0 1 0 7.4 0a3.7 3.7 0 1 0 -7.4 0zM404.20 301.07a3.7 3.7 0 1 0 7.4 0a3.7 3.7 0 1 0 -7.4 0zM404.80 301.31a3.7 3.7 0 1 0 7.4 0a3.7 3.7 0 1 0 -7.4 0zM405.40 301.55a3.7 3.7 0 1 0 7.4 0a3.7 3.7 0 1 0 -7.4 0zM406.00 301.79a3.7 3.7 0 1 0 7.4 0a3.7 3.7 0 1 0 -7.4 0zM406.60 302.03a3.7 3.7 0 1 0 7.4 0a3.7 3.7 0 1 0 -7.4 0zM407.20 302.26a3.7 3.7 0 1 0 7.4 0a3.7 3.7 0 1 0 -7.4 0zM407.80 302.50a3.7 3.7 0 1 0 7.4 0a3.7 3.7 0 1 0 -7.4 0zM408.40 302.74a3.7 3.7 0 1 0 7.4 0a3.7 3.7 0 1 0 -7.4 0zM409.00 302.97a3.7 3.7 0 1 0 7.4 0a3.7 3.7 0 1 0 -7.4 0zM409.60 303.21a3.7 3.7 0 1 0 7.4 0a3.7 3.7 0 1 0 -7.4 0zM410.20 303.45a3.7 3.7 0 1 0 7.4 0a3.7 3.7 0 1 0 -7.4 0zM410.80 303.68a3.7 3.7 0 1 0 7.4 0a3.7 3.7 0 1 0 -7.4 0zM411.40 303.92a3.7 3.7 0 1 0 7.4 0a3.7 3.7 0 1 0 -7.4 0zM412.00 304.16a3.7 3.7 0 1 0 7.4 0a3.7 3.7 0 1 0 -7.4 0zM412.60 304.39a3.7 3.7 0 1 0 7.4 0a3.7 3.7 0 1 0 -7.4 0zM413.20 304.63a3.7 3.7 0 1 0 7.4 0a3.7 3.7 0 1 0 -7.4 0zM413.80 304.86a3.7 3.7 0 1 0 7.4 0a3.7 3.7 0 1 0 -7.4 0zM414.40 305.10a3.7 3.7 0 1 0 7.4 0a3.7 3.7 0 1 0 -7.4 0zM415.00 305.33a3.7 3.7 0 1 0 7.4 0a3.7 3.7 0 1 0 -7.4 0zM415.60 305.56a3.7 3.7 0 1 0 7.4 0a3.7 3.7 0 1 0 -7.4 0zM416.20 305.80a3.7 3.7 0 1 0 7.4 0a3.7 3.7 0 1 0 -7.4 0zM416.80 306.03a3.7 3.7 0 1 0 7.4 0a3.7 3.7 0 1 0 -7.4 0zM417.40 306.27a3.7 3.7 0 1 0 7.4 0a3.7 3.7 0 1 0 -7.4 0zM418.00 306.50a3.7 3.7 0 1 0 7.4 0a3.7 3.7 0 1 0 -7.4 0zM418.60 306.73a3.7 3.7 0 1 0 7.4 0a3.7 3.7 0 1 0 -7.4 0zM419.20 306.96a3.7 3.7 0 1 0 7.4 0a3.7 3.7 0 1 0 -7.4 0zM419.80 307.20a3.7 3.7 0 1 0 7.4 0a3.7 3.7 0 1 0 -7.4 0zM420.40 307.43a3.7 3.7 0 1 0 7.4 0a3.7 3.7 0 1 0 -7.4 0zM421.00 307.66a3.7 3.7 0 1 0 7.4 0a3.7 3.7 0 1 0 -7.4 0zM421.60 307.89a3.7 3.7 0 1 0 7.4 0a3.7 3.7 0 1 0 -7.4 0zM422.20 308.12a3.7 3.7 0 1 0 7.4 0a3.7 3.7 0 1 0 -7.4 0zM422.80 308.36a3.7 3.7 0 1 0 7.4 0a3.7 3.7 0 1 0 -7.4 0zM423.40 308.59a3.7 3.7 0 1 0 7.4 0a3.7 3.7 0 1 0 -7.4 0zM424.00 308.82a3.7 3.7 0 1 0 7.4 0a3.7 3.7 0 1 0 -7.4 0zM424.60 309.05a3.7 3.7 0 1 0 7.4 0a3.7 3.7 0 1 0 -7.4 0zM425.20 309.28a3.7 3.7 0 1 0 7.4 0a3.7 3.7 0 1 0 -7.4 0zM425.80 309.51a3.7 3.7 0 1 0 7.4 0a3.7 3.7 0 1 0 -7.4 0zM426.40 309.74a3.7 3.7 0 1 0 7.4 0a3.7 3.7 0 1 0 -7.4 0zM427.00 309.96a3.7 3.7 0 1 0 7.4 0a3.7 3.7 0 1 0 -7.4 0zM427.60 310.19a3.7 3.7 0 1 0 7.4 0a3.7 3.7 0 1 0 -7.4 0zM428.20 310.42a3.7 3.7 0 1 0 7.4 0a3.7 3.7 0 1 0 -7.4 0zM428.80 310.65a3.7 3.7 0 1 0 7.4 0a3.7 3.7 0 1 0 -7.4 0zM429.40 310.88a3.7 3.7 0 1 0 7.4 0a3.7 3.7 0 1 0 -7.4 0zM430.00 311.10a3.7 3.7 0 1 0 7.4 0a3.7 3.7 0 1 0 -7.4 0zM430.60 311.33a3.7 3.7 0 1 0 7.4 0a3.7 3.7 0 1 0 -7.4 0zM431.20 311.56a3.7 3.7 0 1 0 7.4 0a3.7 3.7 0 1 0 -7.4 0zM431.80 311.78a3.7 3.7 0 1 0 7.4 0a3.7 3.7 0 1 0 -7.4 0zM432.40 312.01a3.7 3.7 0 1 0 7.4 0a3.7 3.7 0 1 0 -7.4 0zM433.00 312.24a3.7 3.7 0 1 0 7.4 0a3.7 3.7 0 1 0 -7.4 0zM437.30 313.84a3.7 3.7 0 1 0 7.4 0a3.7 3.7 0 1 0 -7.4 0zM437.90 314.07a3.7 3.7 0 1 0 7.4 0a3.7 3.7 0 1 0 -7.4 0zM438.50 314.29a3.7 3.7 0 1 0 7.4 0a3.7 3.7 0 1 0 -7.4 0zM439.10 314.51a3.7 3.7 0 1 0 7.4 0a3.7 3.7 0 1 0 -7.4 0zM439.70 314.73a3.7 3.7 0 1 0 7.4 0a3.7 3.7 0 1 0 -7.4 0zM440.30 314.96a3.7 3.7 0 1 0 7.4 0a3.7 3.7 0 1 0 -7.4 0zM440.90 315.18a3.7 3.7 0 1 0 7.4 0a3.7 3.7 0 1 0 -7.4 0zM441.50 315.40a3.7 3.7 0 1 0 7.4 0a3.7 3.7 0 1 0 -7.4 0zM442.10 315.62a3.7 3.7 0 1 0 7.4 0a3.7 3.7 0 1 0 -7.4 0zM442.70 315.84a3.7 3.7 0 1 0 7.4 0a3.7 3.7 0 1 0 -7.4 0zM443.30 316.06a3.7 3.7 0 1 0 7.4 0a3.7 3.7 0 1 0 -7.4 0zM443.90 316.28a3.7 3.7 0 1 0 7.4 0a3.7 3.7 0 1 0 -7.4 0zM444.50 316.50a3.7 3.7 0 1 0 7.4 0a3.7 3.7 0 1 0 -7.4 0zM445.10 316.72a3.7 3.7 0 1 0 7.4 0a3.7 3.7 0 1 0 -7.4 0zM449.60 318.34a3.7 3.7 0 1 0 7.4 0a3.7 3.7 0 1 0 -7.4 0zM453.20 319.63a3.7 3.7 0 1 0 7.4 0a3.7 3.7 0 1 0 -7.4 0zM453.80 319.84a3.7 3.7 0 1 0 7.4 0a3.7 3.7 0 1 0 -7.4 0zM454.40 320.05a3.7 3.7 0 1 0 7.4 0a3.7 3.7 0 1 0 -7.4 0zM455.00 320.26a3.7 3.7 0 1 0 7.4 0a3.7 3.7 0 1 0 -7.4 0zM455.60 320.48a3.7 3.7 0 1 0 7.4 0a3.7 3.7 0 1 0 -7.4 0zM456.20 320.69a3.7 3.7 0 1 0 7.4 0a3.7 3.7 0 1 0 -7.4 0zM456.80 320.90a3.7 3.7 0 1 0 7.4 0a3.7 3.7 0 1 0 -7.4 0zM457.40 321.11a3.7 3.7 0 1 0 7.4 0a3.7 3.7 0 1 0 -7.4 0zM458.00 321.32a3.7 3.7 0 1 0 7.4 0a3.7 3.7 0 1 0 -7.4 0zM458.60 321.53a3.7 3.7 0 1 0 7.4 0a3.7 3.7 0 1 0 -7.4 0zM459.20 321.74a3.7 3.7 0 1 0 7.4 0a3.7 3.7 0 1 0 -7.4 0zM459.80 321.94a3.7 3.7 0 1 0 7.4 0a3.7 3.7 0 1 0 -7.4 0zM460.40 322.15a3.7 3.7 0 1 0 7.4 0a3.7 3.7 0 1 0 -7.4 0zM461.00 322.36a3.7 3.7 0 1 0 7.4 0a3.7 3.7 0 1 0 -7.4 0zM461.60 322.57a3.7 3.7 0 1 0 7.4 0a3.7 3.7 0 1 0 -7.4 0zM462.20 322.77a3.7 3.7 0 1 0 7.4 0a3.7 3.7 0 1 0 -7.4 0zM462.80 322.98a3.7 3.7 0 1 0 7.4 0a3.7 3.7 0 1 0 -7.4 0zM471.60 325.95a3.7 3.7 0 1 0 7.4 0a3.7 3.7 0 1 0 -7.4 0zM472.90 326.38a3.7 3.7 0 1 0 7.4 0a3.7 3.7 0 1 0 -7.4 0zM477.00 327.72a3.7 3.7 0 1 0 7.4 0a3.7 3.7 0 1 0 -7.4 0zM479.60 328.55a3.7 3.7 0 1 0 7.4 0a3.7 3.7 0 1 0 -7.4 0zM481.10 329.03a3.7 3.7 0 1 0 7.4 0a3.7 3.7 0 1 0 -7.4 0zM486.20 330.64a3.7 3.7 0 1 0 7.4 0a3.7 3.7 0 1 0 -7.4 0zM489.60 331.69a3.7 3.7 0 1 0 7.4 0a3.7 3.7 0 1 0 -7.4 0zM513.30 338.30a3.7 3.7 0 1 0 7.4 0a3.7 3.7 0 1 0 -7.4 0zM523.00 341.30a3.7 3.7 0 1 0 7.4 0a3.7 3.7 0 1 0 -7.4 0zM525.60 342.10a3.7 3.7 0 1 0 7.4 0a3.7 3.7 0 1 0 -7.4 0zM529.60 343.00a3.7 3.7 0 1 0 7.4 0a3.7 3.7 0 1 0 -7.4 0zM537.50 345.10a3.7 3.7 0 1 0 7.4 0a3.7 3.7 0 1 0 -7.4 0zM551.20 348.40a3.7 3.7 0 1 0 7.4 0a3.7 3.7 0 1 0 -7.4 0zM567.20 352.50a3.7 3.7 0 1 0 7.4 0a3.7 3.7 0 1 0 -7.4 0zM597.20 359.30a3.7 3.7 0 1 0 7.4 0a3.7 3.7 0 1 0 -7.4 0zM613.20 362.80a3.7 3.7 0 1 0 7.4 0a3.7 3.7 0 1 0 -7.4 0zM648.30 369.70a3.7 3.7 0 1 0 7.4 0a3.7 3.7 0 1 0 -7.4 0z"/>
<path fill="#16168c" d="M187.00 133.40a3.7 3.7 0 1 0 7.4 0a3.7 3.7 0 1 0 -7.4 0zM188.10 134.20a3.7 3.7 0 1 0 7.4 0a3.7 3.7 0 1 0 -7.4 0z"/>
<path class="p" d="M200.50 147.73h9.0M205.00 143.23v9.0M204.20 151.03h9.0M208.70 146.53v9.0M204.80 151.56h9.0M209.30 147.06v9.0M205.40 152.08h9.0M209.90 147.58v9.0M206.00 152.61h9.0M210.50 148.11v9.0M206.60 153.14h9.0M211.10 148.64v9.0M207.20 153.66h9.0M211.70 149.16v9.0M207.80 154.19h9.0M212.30 149.69v9.0M208.40 154.71h9.0M212.90 150.21v9.0M209.00 155.23h9.0M213.50 150.73v9.0M209.60 155.75h9.0M214.10 151.25v9.0M210.20 156.27h9.0M214.70 151.77v9.0M210.80 156.79h9.0M215.30 152.29v9.0M211.40 157.31h9.0M215.90 152.81v9.0M212.00 157.82h9.0M216.50 153.32v9.0M212.60 158.34h9.0M217.10 153.84v9.0M213.20 158.86h9.0M217.70 154.36v9.0M213.80 159.37h9.0M218.30 154.87v9.0M214.40 159.88h9.0M218.90 155.38v9.0M215.00 160.40h9.0M219.50 155.90v9.0M215.60 160.91h9.0M220.10 156.41v9.0M216.20 161.42h9.0M220.70 156.92v9.0M216.80 161.93h9.0M221.30 157.43v9.0M217.40 162.44h9.0M221.90 157.94v9.0M218.00 162.95h9.0M222.50 158.45v9.0M218.60 163.46h9.0M223.10 158.96v9.0M219.20 163.97h9.0M223.70 159.47v9.0M219.80 164.48h9.0M224.30 159.98v9.0M220.40 164.98h9.0M224.90 160.48v9.0M221.00 165.49h9.0M225.50 160.99v9.0M221.60 166.00h9.0M226.10 161.50v9.0M222.20 166.50h9.0M226.70 162.00v9.0M222.80 167.01h9.0M227.30 162.51v9.0M223.40 167.51h9.0M227.90 163.01v9.0M224.00 168.02h9.0M228.50 163.52v9.0M224.60 168.52h9.0M229.10 164.02v9.0M225.20 169.02h9.0M229.70 164.52v9.0M225.80 169.53h9.0M230.30 165.03v9.0M226.40 170.03h9.0M230.90 165.53v9.0M227.00 170.53h9.0M231.50 166.03v9.0M227.60 171.03h9.0M232.10 166.53v9.0M228.20 171.53h9.0M232.70 167.03v9.0M228.80 172.03h9.0M233.30 167.53v9.0M229.40 172.53h9.0M233.90 168.03v9.0M230.00 173.03h9.0M234.50 168.53v9.0M230.60 173.53h9.0M235.10 169.03v9.0M231.20 174.03h9.0M235.70 169.53v9.0M231.80 174.53h9.0M236.30 170.03v9.0M232.40 175.03h9.0M236.90 170.53v9.0M233.00 175.53h9.0M237.50 171.03v9.0M233.60 176.02h9.0M238.10 171.52v9.0M234.20 176.52h9.0M238.70 172.02v9.0M234.80 177.02h9.0M239.30 172.52v9.0M235.40 177.51h9.0M239.90 173.01v9.0M236.00 178.01h9.0M240.50 173.51v9.0M236.60 178.50h9.0M241.10 174.00v9.0M237.20 179.00h9.0M241.70 174.50v9.0M237.80 179.49h9.0M242.30 174.99v9.0M238.40 179.99h9.0M242.90 175.49v9.0M239.00 180.48h9.0M243.50 175.98v9.0M239.60 180.97h9.0M244.10 176.47v9.0M240.20 181.47h9.0M244.70 176.97v9.0M240.80 181.96h9.0M245.30 177.46v9.0M241.40 182.45h9.0M245.90 177.95v9.0M242.00 182.94h9.0M246.50 178.44v9.0M242.60 183.44h9.0M247.10 178.94v9.0M243.20 183.93h9.0M247.70 179.43v9.0M243.80 184.42h9.0M248.30 179.92v9.0M244.40 184.91h9.0M248.90 180.41v9.0M245.00 185.40h9.0M249.50 180.90v9.0M245.60 185.89h9.0M250.10 181.39v9.0M246.20 186.38h9.0M250.70 181.88v9.0M246.80 186.87h9.0M251.30 182.37v9.0M247.40 187.36h9.0M251.90 182.86v9.0M248.00 187.84h9.0M252.50 183.34v9.0M248.60 188.33h9.0M253.10 183.83v9.0M249.20 188.82h9.0M253.70 184.32v9.0M249.80 189.31h9.0M254.30 184.81v9.0M250.40 189.79h9.0M254.90 185.29v9.0M251.00 190.28h9.0M255.50 185.78v9.0M251.60 190.77h9.0M256.10 186.27v9.0M252.20 191.25h9.0M256.70 186.75v9.0M252.80 191.74h9.0M257.30 187.24v9.0M253.40 192.23h9.0M257.90 187.73v9.0M254.00 192.71h9.0M258.50 188.21v9.0M254.60 193.20h9.0M259.10 188.70v9.0M255.20 193.68h9.0M259.70 189.18v9.0M255.80 194.17h9.0M260.30 189.67v9.0M256.40 194.65h9.0M260.90 190.15v9.0M257.00 195.13h9.0M261.50 190.63v9.0M257.60 195.62h9.0M262.10 191.12v9.0M258.20 196.10h9.0M262.70 191.60v9.0M258.80 196.58h9.0M263.30 192.08v9.0M259.40 197.07h9.0M263.90 192.57v9.0M260.00 197.55h9.0M264.50 193.05v9.0M260.60 198.03h9.0M265.10 193.53v9.0M261.20 198.52h9.0M265.70 194.02v9.0M261.80 199.00h9.0M266.30 194.50v9.0M262.40 199.48h9.0M266.90 194.98v9.0M263.00 199.96h9.0M267.50 195.46v9.0M263.60 200.44h9.0M268.10 195.94v9.0M264.20 200.92h9.0M268.70 196.42v9.0M264.80 201.40h9.0M269.30 196.90v9.0M265.40 201.88h9.0M269.90 197.38v9.0M266.00 202.36h9.0M270.50 197.86v9.0M266.60 202.84h9.0M271.10 198.34v9.0M267.20 203.32h9.0M271.70 198.82v9.0M267.80 203.80h9.0M272.30 199.30v9.0M268.40 204.28h9.0M272.90 199.78v9.0M269.00 204.76h9.0M273.50 200.26v9.0M269.60 205.24h9.0M274.10 200.74v9.0M270.20 205.72h9.0M274.70 201.22v9.0M270.80 206.20h9.0M275.30 201.70v9.0M271.40 206.68h9.0M275.90 202.18v9.0M272.00 207.16h9.0M276.50 202.66v9.0M272.60 207.64h9.0M277.10 203.14v9.0M273.20 208.11h9.0M277.70 203.61v9.0M273.80 208.59h9.0M278.30 204.09v9.0M274.40 209.07h9.0M278.90 204.57v9.0M275.00 209.55h9.0M279.50 205.05v9.0M275.60 210.03h9.0M280.10 205.53v9.0M276.20 210.50h9.0M280.70 206.00v9.0M276.80 210.98h9.0M281.30 206.48v9.0M277.40 211.46h9.0M281.90 206.96v9.0M278.00 211.93h9.0M282.50 207.43v9.0M278.60 212.41h9.0M283.10 207.91v9.0M279.20 212.89h9.0M283.70 208.39v9.0M279.80 213.36h9.0M284.30 208.86v9.0M280.40 213.84h9.0M284.90 209.34v9.0M281.00 214.32h9.0M285.50 209.82v9.0M281.60 214.79h9.0M286.10 210.29v9.0M282.20 215.27h9.0M286.70 210.77v9.0M282.80 215.74h9.0M287.30 211.24v9.0M283.40 216.22h9.0M287.90 211.72v9.0M284.00 216.70h9.0M288.50 212.20v9.0M284.60 217.17h9.0M289.10 212.67v9.0M285.20 217.65h9.0M289.70 213.15v9.0M285.80 218.12h9.0M290.30 213.62v9.0M286.40 218.60h9.0M290.90 214.10v9.0M287.00 219.07h9.0M291.50 214.57v9.0M287.60 219.55h9.0M292.10 215.05v9.0M288.20 220.02h9.0M292.70 215.52v9.0M288.80 220.50h9.0M293.30 216.00v9.0M289.40 220.97h9.0M293.90 216.47v9.0M290.00 221.45h9.0M294.50 216.95v9.0M290.60 221.92h9.0M295.10 217.42v9.0M291.20 222.40h9.0M295.70 217.90v9.0M291.80 222.87h9.0M296.30 218.37v9.0M292.40 223.35h9.0M296.90 218.85v9.0M293.00 223.82h9.0M297.50 219.32v9.0M293.60 224.30h9.0M298.10 219.80v9.0M294.20 224.77h9.0M298.70 220.27v9.0M294.80 225.25h9.0M299.30 220.75v9.0M295.40 225.72h9.0M299.90 221.22v9.0M296.00 226.19h9.0M300.50 221.69v9.0M296.60 226.67h9.0M301.10 222.17v9.0M297.20 227.14h9.0M301.70 222.64v9.0M297.80 227.62h9.0M302.30 223.12v9.0M298.40 228.09h9.0M302.90 223.59v9.0M299.00 228.57h9.0M303.50 224.07v9.0M299.60 229.04h9.0M304.10 224.54v9.0M300.20 229.52h9.0M304.70 225.02v9.0M300.80 229.99h9.0M305.30 225.49v9.0M301.40 230.46h9.0M305.90 225.96v9.0M302.00 230.94h9.0M306.50 226.44v9.0M302.60 231.41h9.0M307.10 226.91v9.0M303.20 231.89h9.0M307.70 227.39v9.0M303.80 232.36h9.0M308.30 227.86v9.0M304.40 232.84h9.0M308.90 228.34v9.0M305.00 233.31h9.0M309.50 228.81v9.0M305.60 233.78h9.0M310.10 229.28v9.0M306.20 234.26h9.0M310.70 229.76v9.0M306.80 234.73h9.0M311.30 230.23v9.0M307.40 235.21h9.0M311.90 230.71v9.0M308.00 235.68h9.0M312.50 231.18v9.0M308.60 236.16h9.0M313.10 231.66v9.0M309.20 236.63h9.0M313.70 232.13v9.0M309.80 237.11h9.0M314.30 232.61v9.0M310.40 237.58h9.0M314.90 233.08v9.0M311.00 238.06h9.0M315.50 233.56v9.0M311.60 238.53h9.0M316.10 234.03v9.0M312.20 239.01h9.0M316.70 234.51v9.0M312.80 239.48h9.0M317.30 234.98v9.0M313.40 239.96h9.0M317.90 235.46v9.0M314.00 240.43h9.0M318.50 235.93v9.0M314.60 240.91h9.0M319.10 236.41v9.0M315.20 241.38h9.0M319.70 236.88v9.0M315.80 241.86h9.0M320.30 237.36v9.0M316.40 242.33h9.0M320.90 237.83v9.0M317.00 242.81h9.0M321.50 238.31v9.0M317.60 243.29h9.0M322.10 238.79v9.0M318.20 243.76h9.0M322.70 239.26v9.0M318.80 244.24h9.0M323.30 239.74v9.0M319.40 244.71h9.0M323.90 240.21v9.0M320.00 245.19h9.0M324.50 240.69v9.0M320.60 245.67h9.0M325.10 241.17v9.0M321.20 246.14h9.0M325.70 241.64v9.0M321.80 246.62h9.0M326.30 242.12v9.0M322.40 247.10h9.0M326.90 242.60v9.0M323.00 247.57h9.0M327.50 243.07v9.0M323.60 248.05h9.0M328.10 243.55v9.0M324.20 248.53h9.0M328.70 244.03v9.0M324.80 249.01h9.0M329.30 244.51v9.0M325.40 249.48h9.0M329.90 244.98v9.0M326.00 249.96h9.0M330.50 245.46v9.0M326.60 250.44h9.0M331.10 245.94v9.0M327.20 250.92h9.0M331.70 246.42v9.0M327.80 251.39h9.0M332.30 246.89v9.0M328.40 251.87h9.0M332.90 247.37v9.0M329.00 252.35h9.0M333.50 247.85v9.0M329.60 252.83h9.0M334.10 248.33v9.0M330.20 253.31h9.0M334.70 248.81v9.0M330.80 253.78h9.0M335.30 249.28v9.0M331.40 254.26h9.0M335.90 249.76v9.0M332.00 254.74h9.0M336.50 250.24v9.0M332.60 255.22h9.0M337.10 250.72v9.0M333.20 255.69h9.0M337.70 251.19v9.0M333.80 256.17h9.0M338.30 251.67v9.0M334.40 256.65h9.0M338.90 252.15v9.0M335.00 257.12h9.0M339.50 252.62v9.0M335.60 257.60h9.0M340.10 253.10v9.0M336.20 258.07h9.0M340.70 253.57v9.0M336.80 258.55h9.0M341.30 254.05v9.0M337.40 259.02h9.0M341.90 254.52v9.0M338.00 259.49h9.0M342.50 254.99v9.0M338.60 259.97h9.0M343.10 255.47v9.0M339.20 260.44h9.0M343.70 255.94v9.0M339.80 260.91h9.0M344.30 256.41v9.0M340.40 261.38h9.0M344.90 256.88v9.0M341.00 261.85h9.0M345.50 257.35v9.0M341.60 262.32h9.0M346.10 257.82v9.0M342.20 262.79h9.0M346.70 258.29v9.0M342.80 263.26h9.0M347.30 258.76v9.0M343.40 263.72h9.0M347.90 259.22v9.0M344.00 264.19h9.0M348.50 259.69v9.0M344.60 264.65h9.0M349.10 260.15v9.0M345.20 265.12h9.0M349.70 260.62v9.0M345.80 265.58h9.0M350.30 261.08v9.0M346.40 266.04h9.0M350.90 261.54v9.0M347.00 266.50h9.0M351.50 262.00v9.0M347.60 266.96h9.0M352.10 262.46v9.0M348.20 267.42h9.0M352.70 262.92v9.0M348.80 267.88h9.0M353.30 263.38v9.0M349.40 268.33h9.0M353.90 263.83v9.0M350.00 268.79h9.0M354.50 264.29v9.0M350.60 269.24h9.0M355.10 264.74v9.0M351.20 269.69h9.0M355.70 265.19v9.0M351.80 270.14h9.0M356.30 265.64v9.0M352.40 270.59h9.0M356.90 266.09v9.0M353.00 271.04h9.0M357.50 266.54v9.0M353.60 271.48h9.0M358.10 266.98v9.0M354.20 271.93h9.0M358.70 267.43v9.0M354.80 272.37h9.0M359.30 267.87v9.0M355.40 272.81h9.0M359.90 268.31v9.0M356.00 273.25h9.0M360.50 268.75v9.0M356.60 273.69h9.0M361.10 269.19v9.0M357.20 274.13h9.0M361.70 269.63v9.0M357.80 274.56h9.0M362.30 270.06v9.0M358.40 275.00h9.0M362.90 270.50v9.0M359.00 275.43h9.0M363.50 270.93v9.0M359.60 275.86h9.0M364.10 271.36v9.0M360.20 276.29h9.0M364.70 271.79v9.0M360.80 276.71h9.0M365.30 272.21v9.0M361.40 277.14h9.0M365.90 272.64v9.0M362.00 277.56h9.0M366.50 273.06v9.0M362.60 277.99h9.0M367.10 273.49v9.0M363.20 278.41h9.0M367.70 273.91v9.0M363.80 278.83h9.0M368.30 274.33v9.0M364.40 279.25h9.0M368.90 274.75v9.0M365.00 279.67h9.0M369.50 275.17v9.0M365.60 280.08h9.0M370.10 275.58v9.0M366.20 280.50h9.0M370.70 276.00v9.0M366.80 280.91h9.0M371.30 276.41v9.0M367.40 281.32h9.0M371.90 276.82v9.0M368.00 281.74h9.0M372.50 277.24v9.0M368.60 282.15h9.0M373.10 277.65v9.0M369.20 282.56h9.0M373.70 278.06v9.0M369.80 282.96h9.0M374.30 278.46v9.0M370.40 283.37h9.0M374.90 278.87v9.0M371.00 283.78h9.0M375.50 279.28v9.0M371.60 284.18h9.0M376.10 279.68v9.0M372.20 284.59h9.0M376.70 280.09v9.0M372.80 284.99h9.0M377.30 280.49v9.0M373.40 285.39h9.0M377.90 280.89v9.0M374.00 285.79h9.0M378.50 281.29v9.0M374.60 286.19h9.0M379.10 281.69v9.0M375.20 286.59h9.0M379.70 282.09v9.0M375.80 286.99h9.0M380.30 282.49v9.0M376.40 287.39h9.0M380.90 282.89v9.0M377.00 287.78h9.0M381.50 283.28v9.0M377.60 288.18h9.0M382.10 283.68v9.0M378.20 288.58h9.0M382.70 284.08v9.0M378.80 288.97h9.0M383.30 284.47v9.0M379.40 289.36h9.0M383.90 284.86v9.0M380.00 289.76h9.0M384.50 285.26v9.0M380.60 290.15h9.0M385.10 285.65v9.0M381.20 290.54h9.0M385.70 286.04v9.0M381.80 290.93h9.0M386.30 286.43v9.0M382.40 291.32h9.0M386.90 286.82v9.0M383.00 291.71h9.0M387.50 287.21v9.0M383.60 292.09h9.0M388.10 287.59v9.0M384.20 292.48h9.0M388.70 287.98v9.0M384.80 292.87h9.0M389.30 288.37v9.0M385.40 293.25h9.0M389.90 288.75v9.0M386.00 293.63h9.0M390.50 289.13v9.0M386.60 294.02h9.0M391.10 289.52v9.0M387.20 294.40h9.0M391.70 289.90v9.0M387.80 294.78h9.0M392.30 290.28v9.0M388.40 295.16h9.0M392.90 290.66v9.0M389.00 295.54h9.0M393.50 291.04v9.0M389.60 295.92h9.0M394.10 291.42v9.0M390.20 296.30h9.0M394.70 291.80v9.0M390.80 296.68h9.0M395.30 292.18v9.0M391.40 297.05h9.0M395.90 292.55v9.0M392.00 297.43h9.0M396.50 292.93v9.0M392.60 297.80h9.0M397.10 293.30v9.0M393.20 298.18h9.0M397.70 293.68v9.0M393.80 298.55h9.0M398.30 294.05v9.0M394.40 298.92h9.0M398.90 294.42v9.0M395.00 299.30h9.0M399.50 294.80v9.0M395.60 299.67h9.0M400.10 295.17v9.0M396.20 300.04h9.0M400.70 295.54v9.0M396.80 300.40h9.0M401.30 295.90v9.0M397.40 300.77h9.0M401.90 296.27v9.0M398.00 301.14h9.0M402.50 296.64v9.0M398.60 301.51h9.0M403.10 297.01v9.0M399.20 301.87h9.0M403.70 297.37v9.0M399.80 302.24h9.0M404.30 297.74v9.0M400.40 302.60h9.0M404.90 298.10v9.0M401.00 302.96h9.0M405.50 298.46v9.0M401.60 303.33h9.0M406.10 298.83v9.0M402.20 303.69h9.0M406.70 299.19v9.0M402.80 304.05h9.0M407.30 299.55v9.0M403.40 304.41h9.0M407.90 299.91v9.0M404.00 304.77h9.0M408.50 300.27v9.0M404.60 305.13h9.0M409.10 300.63v9.0M405.20 305.48h9.0M409.70 300.98v9.0M405.80 305.84h9.0M410.30 301.34v9.0M406.40 306.20h9.0M410.90 301.70v9.0M407.00 306.55h9.0M411.50 302.05v9.0M407.60 306.90h9.0M412.10 302.40v9.0M408.20 307.26h9.0M412.70 302.76v9.0M408.80 307.61h9.0M413.30 303.11v9.0M409.40 307.96h9.0M413.90 303.46v9.0M410.00 308.31h9.0M414.50 303.81v9.0M410.60 308.66h9.0M415.10 304.16v9.0M411.20 309.01h9.0M415.70 304.51v9.0M411.80 309.36h9.0M416.30 304.86v9.0M412.40 309.71h9.0M416.90 305.21v9.0M413.00 310.05h9.0M417.50 305.55v9.0M413.60 310.40h9.0M418.10 305.90v9.0M414.20 310.75h9.0M418.70 306.25v9.0M414.80 311.09h9.0M419.30 306.59v9.0M415.40 311.43h9.0M419.90 306.93v9.0M416.00 311.78h9.0M420.50 307.28v9.0M416.60 312.12h9.0M421.10 307.62v9.0M417.20 312.46h9.0M421.70 307.96v9.0M417.80 312.80h9.0M422.30 308.30v9.0M418.40 313.14h9.0M422.90 308.64v9.0M419.00 313.48h9.0M423.50 308.98v9.0M419.60 313.81h9.0M424.10 309.31v9.0M420.20 314.15h9.0M424.70 309.65v9.0M420.80 314.49h9.0M425.30 309.99v9.0M421.40 314.82h9.0M425.90 310.32v9.0M422.00 315.16h9.0M426.50 310.66v9.0M422.60 315.49h9.0M427.10 310.99v9.0M423.20 315.82h9.0M427.70 311.32v9.0M423.80 316.16h9.0M428.30 311.66v9.0M424.40 316.49h9.0M428.90 311.99v9.0M425.00 316.82h9.0M429.50 312.32v9.0M425.60 317.15h9.0M430.10 312.65v9.0M426.20 317.48h9.0M430.70 312.98v9.0M426.80 317.80h9.0M431.30 313.30v9.0M427.40 318.13h9.0M431.90 313.63v9.0M428.00 318.46h9.0M432.50 313.96v9.0M428.60 318.78h9.0M433.10 314.28v9.0M429.20 319.11h9.0M433.70 314.61v9.0M429.80 319.43h9.0M434.30 314.93v9.0M430.40 319.75h9.0M434.90 315.25v9.0M431.00 320.08h9.0M435.50 315.58v9.0M435.30 322.36h9.0M439.80 317.86v9.0M435.90 322.68h9.0M440.40 318.18v9.0M436.50 322.99h9.0M441.00 318.49v9.0M437.10 323.31h9.0M441.60 318.81v9.0M437.70 323.62h9.0M442.20 319.12v9.0M438.30 323.93h9.0M442.80 319.43v9.0M438.90 324.25h9.0M443.40 319.75v9.0M439.50 324.56h9.0M444.00 320.06v9.0M440.10 324.87h9.0M444.60 320.37v9.0M440.70 325.18h9.0M445.20 320.68v9.0M441.30 325.49h9.0M445.80 320.99v9.0M441.90 325.79h9.0M446.40 321.29v9.0M442.50 326.10h9.0M447.00 321.60v9.0M443.10 326.41h9.0M447.60 321.91v9.0M447.60 328.68h9.0M452.10 324.18v9.0M451.20 330.46h9.0M455.70 325.96v9.0M451.80 330.76h9.0M456.30 326.26v9.0M452.40 331.05h9.0M456.90 326.55v9.0M453.00 331.35h9.0M457.50 326.85v9.0M453.60 331.64h9.0M458.10 327.14v9.0M454.20 331.93h9.0M458.70 327.43v9.0M454.80 332.22h9.0M459.30 327.72v9.0M455.40 332.51h9.0M459.90 328.01v9.0M456.00 332.80h9.0M460.50 328.30v9.0M456.60 333.09h9.0M461.10 328.59v9.0M457.20 333.38h9.0M461.70 328.88v9.0M457.80 333.66h9.0M462.30 329.16v9.0M458.40 333.95h9.0M462.90 329.45v9.0M459.00 334.24h9.0M463.50 329.74v9.0M459.60 334.52h9.0M464.10 330.02v9.0M460.20 334.80h9.0M464.70 330.30v9.0M460.80 335.09h9.0M465.30 330.59v9.0"/>
<path class="p s" d="M147.70 94.74h10.0M152.70 89.74v10.0M154.70 102.55h10.0M159.70 97.55v10.0M166.60 115.32h10.0M171.60 110.32v10.0M173.50 122.43h10.0M178.50 117.43v10.0M184.50 133.32h10.0M189.50 128.32v10.0M185.60 134.37h10.0M190.60 129.37v10.0M193.90 142.19h10.0M198.90 137.19v10.0M194.80 143.02h10.0M199.80 138.02v10.0M197.80 145.75h10.0M202.80 140.75v10.0M198.90 146.75h10.0M203.90 141.75v10.0M469.10 339.15h10.0M474.10 334.15v10.0M470.40 339.74h10.0M475.40 334.74v10.0M474.50 341.56h10.0M479.50 336.56v10.0M477.10 342.70h10.0M482.10 337.70v10.0M478.60 343.35h10.0M483.60 338.35v10.0M483.70 345.53h10.0M488.70 340.53v10.0M487.10 346.95h10.0M492.10 341.95v10.0M510.80 356.18h10.0M515.80 351.18v10.0M520.50 359.63h10.0M525.50 354.63v10.0M523.10 360.53h10.0M528.10 355.53v10.0M527.10 361.88h10.0M532.10 356.88v10.0M535.00 364.46h10.0M540.00 359.46v10.0M548.70 368.67h10.0M553.70 363.67v10.0M564.70 373.21h10.0M569.70 368.21v10.0M594.70 380.78h10.0M599.70 375.78v10.0M610.70 384.39h10.0M615.70 379.39v10.0M645.80 391.54h10.0M650.80 386.54v10.0"/>
<rect x="117" y="15.7" width="557.6" height="428.9" fill="none" stroke="#000" stroke-width="2"/>
<path d="M107.6 429.90H117M105.8 396.60H117M107.6 363.30H117M105.8 330.00H117M107.6 296.70H117M105.8 263.40H117M107.6 230.10H117M105.8 196.80H117M107.6 163.50H117M105.8 130.20H117M107.6 96.90H117M105.8 63.60H117M107.6 30.30H117M126.10 444.6V459.2M153.09 444.6V456.4M180.07 444.6V456.4M207.06 444.6V456.4M234.04 444.6V456.4M261.03 444.6V459.2M288.02 444.6V456.4M315.00 444.6V456.4M341.99 444.6V456.4M368.97 444.6V456.4M395.96 444.6V459.2M422.95 444.6V456.4M449.93 444.6V456.4M476.92 444.6V456.4M503.90 444.6V456.4M530.89 444.6V459.2M557.88 444.6V456.4M584.86 444.6V456.4M611.85 444.6V456.4M638.83 444.6V456.4M665.82 444.6V459.2" stroke="#000" stroke-width="3.3" fill="none"/>
<g class="t">
<text x="68.29 80.02 85.46" y="438.50" font-size="22.6">0.0</text>
<text x="67.29 79.02 84.46" y="371.90" font-size="22.6">0.5</text>
<text x="68.29 80.02 85.46" y="305.30" font-size="22.6"><tspan class="h">1</tspan>.0</text>
<text x="67.29 79.02 84.46" y="238.70" font-size="22.6"><tspan class="h">1</tspan>.5</text>
<text x="68.29 80.02 85.46" y="172.10" font-size="22.6">2.0</text>
<text x="67.29 79.02 84.46" y="105.50" font-size="22.6">2.5</text>
<text x="68.29 80.02 85.46" y="38.90" font-size="22.6">3.0</text>
<text x="120.13" y="496.30" font-size="22.6">0</text>
<text x="254.73" y="496.30" font-size="22.6"><tspan class="h">1</tspan></text>
<text x="390.04" y="496.30" font-size="22.6">2</text>
<text x="525.05" y="496.30" font-size="22.6">3</text>
<text x="659.73" y="496.30" font-size="22.6">4</text>
<path d="M76.40 305.30V290.00H79.60V305.30ZM76.70 290.00C75.50 291.60 74.00 292.30 72.70 292.40V294.90H76.70ZM76.40 238.70V223.40H79.60V238.70ZM76.70 223.40C75.50 225.00 74.00 225.70 72.70 225.80V228.30H76.70ZM262.00 495.90V480.60H265.20V495.90ZM262.30 480.60C261.10 482.20 259.60 482.90 258.30 483.00V485.50H262.30Z" fill="#000"/>
<text x="266.69 281.87 297.05" y="552.70" font-size="22.5">HDL</text>
<text x="319.32 330.70 343.32 355.93 361.05 372.44 383.82 390.18 401.57 409.19 421.81" y="552.70" font-size="22.5">cholesterol</text>
<text x="438.88 444.93 463.50 482.06 494.07 499.28 505.49 517.79" y="552.70" font-size="22.5">(mmol/L)</text>
<g transform="translate(35.9 0) rotate(-90)"><text x="-335.01 -319.93 -308.58 -298.50 -287.16 -279.57" y="0.00" font-size="22.5">Hazard</text><text x="-257.88 -250.00 -238.35 -231.73 -226.35" y="0.00" font-size="22.5">ratio</text><text x="-202.78 -195.82 -182.61" y="0.00" font-size="22.5">for</text><text x="-168.02 -152.59 -138.41" y="0.00" font-size="22.5">CVD</text></g>
</g>
</svg>
</body></html>
